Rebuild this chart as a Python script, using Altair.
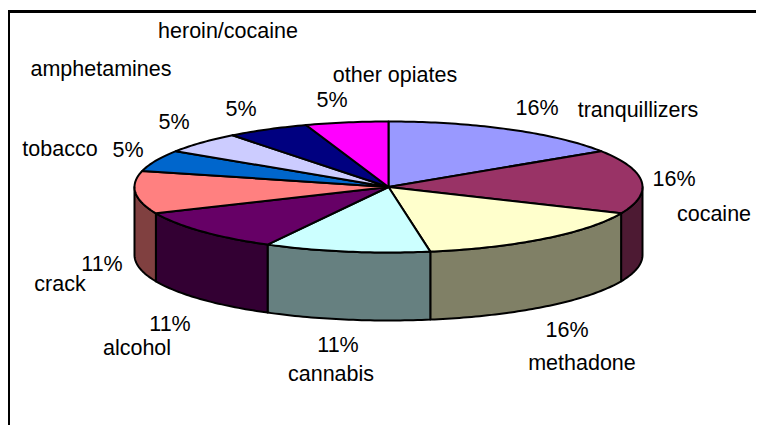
import math
import altair as alt
import pandas as pd

# --- data ---
categories = ["tranquillizers", "cocaine", "methadone", "cannabis", "alcohol",
              "crack", "tobacco", "amphetamines", "heroin/cocaine", "other opiates"]
counts = [3, 3, 3, 2, 2, 2, 1, 1, 1, 1]
percent_labels = ["16%", "16%", "16%", "11%", "11%", "11%", "5%", "5%", "5%", "5%"]

# --- styling / layout, separate from the data ---
top_colors = ["#9999FF", "#993366", "#FFFFCC", "#CCFFFF", "#660066",
              "#FF8080", "#0066CC", "#CCCCFF", "#000080", "#FF00FF"]
side_colors = ["#4D4D80", "#4D1A33", "#808066", "#668080", "#330033",
               "#804040", "#003366", "#666680", "#000040", "#800080"]
name_xy = [(638, 111), (714, 215), (582, 364), (331, 375), (137, 349),
           (60, 285), (60, 150), (101, 70), (228, 32), (395, 76)]
pct_xy = [(537, 109), (674, 180), (567, 331), (338, 346), (170, 325),
          (102, 265), (128, 151), (174, 123), (241, 110), (332, 101)]

W, H = 748, 417
CX, CY, RX, RY, DEPTH = 388.5, 187.0, 254.0, 65.5, 68.0
FONT, FS = "Liberation Sans", 21.5

xs = alt.Scale(domain=[8, 8 + W], range=[0, W])
ys = alt.Scale(domain=[8, 8 + H], range=[0, H])
X = alt.X("x:Q", scale=xs, axis=None)
Y = alt.Y("y:Q", scale=ys, axis=None)


def rim(a0, a1, dy=0.0):
    n = max(2, int(abs(a1 - a0) * 60))
    pts = []
    for i in range(n + 1):
        a = a0 + (a1 - a0) * i / n
        pts.append((CX + RX * math.sin(a), CY + dy - RY * math.cos(a)))
    return pts


def poly(points, fill):
    closed = list(points) + [points[0], points[1]]
    df = pd.DataFrame({"x": [p[0] for p in closed], "y": [p[1] for p in closed],
                       "o": list(range(len(closed)))})
    return alt.Chart(df).mark_line(
        fill=fill, stroke="black", strokeWidth=2, strokeJoin="round", clip=False
    ).encode(x=X, y=Y, order="o:Q")


total = sum(counts)
angles = [0.0]
for c in counts:
    angles.append(angles[-1] + c / total * 2 * math.pi)

layers = []

# side walls (only the front half of the rim shows)
right, left = math.pi / 2, 3 * math.pi / 2
for i in range(len(counts)):
    a0, a1 = max(angles[i], right), min(angles[i + 1], left)
    if a1 > a0:
        front = rim(a0, a1)
        layers.append(poly(front + rim(a1, a0, DEPTH), side_colors[i]))

# top faces
for i in range(len(counts)):
    layers.append(poly([(CX, CY)] + rim(angles[i], angles[i + 1]), top_colors[i]))

# frame
frame_top = pd.DataFrame({"x": [8], "x2": [8 + W], "y": [11.5]})
frame_left = pd.DataFrame({"x": [9], "y": [10], "y2": [8 + H]})
layers.append(alt.Chart(frame_top).mark_rule(color="black", strokeWidth=3).encode(
    x=X, x2="x2:Q", y=Y))
layers.append(alt.Chart(frame_left).mark_rule(color="black", strokeWidth=2).encode(
    x=X, y=Y, y2="y2:Q"))

# labels
txt = pd.DataFrame({
    "x": [p[0] for p in name_xy] + [p[0] for p in pct_xy],
    "y": [p[1] for p in name_xy] + [p[1] for p in pct_xy],
    "t": categories + percent_labels,
})
layers.append(alt.Chart(txt).mark_text(
    font=FONT, fontSize=FS, color="black", align="center", baseline="middle"
).encode(x=X, y=Y, text="t:N"))

chart = alt.layer(*layers).properties(
    width=W, height=H, padding=0, autosize=alt.AutoSizeParams(type="none"),
    background="white"
).configure_view(stroke=None)

chart.save("out.html", embed_options={"renderer": "svg", "actions": False})
